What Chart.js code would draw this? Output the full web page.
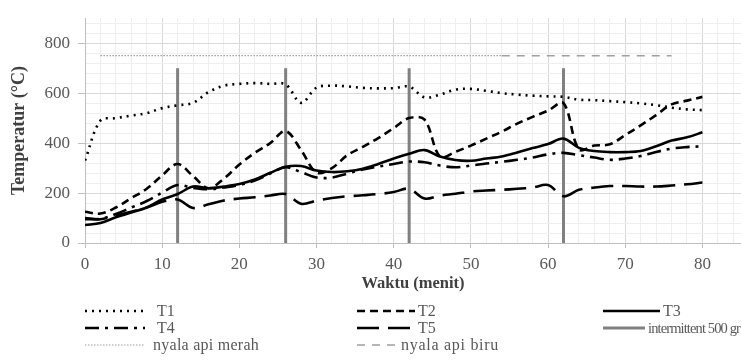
<!DOCTYPE html>
<html>
<head>
<meta charset="utf-8">
<script src="https://cdn.jsdelivr.net/npm/chart.js@4.4.1/dist/chart.umd.min.js"></script>
<style>
  html, body { margin: 0; padding: 0; background: #ffffff; }
  #wrap { position: relative; width: 741px; height: 360px; overflow: hidden; }
  #c { position: absolute; left: 0; top: 0; }
  #legend { position: absolute; left: 0; top: 0; width: 741px; height: 360px; pointer-events: none;
            font-family: 'Liberation Serif', 'Times New Roman', serif; font-size: 16px; color: #595959; }
  .lg-item { position: absolute; white-space: nowrap; }
  .lg-item svg { position: absolute; left: 0; top: 0; overflow: visible; }
  .lg-item span { position: absolute; top: 0; line-height: 16px; transform: translateY(-8px); }
</style>
</head>
<body>
<div id="wrap">
  <canvas id="c" width="741" height="360"></canvas>
  <div id="legend"></div>
</div>
<script>
// ---- data ----
const waktu = [0,2,4,6,8,10,12,14,16,18,20,22,24,26,28,30,32,34,36,38,40,42,44,46,48,50,52,54,56,58,60,62,64,66,68,70,72,74,76,78,80];
const T1 = [330,490,500,510,520,540,551,561,604,630,637,640,637,635,561,622,630,627,621,619,620,626,583,594,614,617,609,600,594,590,587,585,574,572,568,564,559,552,542,535,532];
const T2 = [125,118,142,180,217,271,316,268,219,258,314,361,400,448,372,282,300,352,385,420,460,500,494,345,365,390,418,446,478,505,530,560,375,390,395,432,471,512,555,570,585];
const T3 = [72,80,103,122,142,174,196,226,219,226,236,254,281,305,308,290,284,287,297,316,338,357,372,346,332,329,338,346,362,380,396,418,381,368,364,364,368,387,410,423,443];
const T4 = [95,97,116,142,168,202,232,220,215,222,232,250,278,303,284,262,262,278,294,306,316,326,323,310,303,310,318,325,333,342,355,361,352,342,333,338,348,364,378,384,387];
const T5 = [100,95,110,125,142,165,174,140,155,170,178,183,190,196,157,170,180,187,191,196,204,217,178,190,197,206,210,213,217,222,232,187,213,222,228,228,226,226,230,235,242];
const intermittentWaktu = [12, 26, 42, 62];
const intermittentTop = 700;
const nyalaMerahWaktu = [2, 54];
const nyalaBiruWaktu = [54, 76];
const nyalaSuhu = 750;
const xTickLabels = [0,10,20,30,40,50,60,70,80];
const yTickLabels = [0,200,400,600,800];

// ---- build datasets ----
const toXY = (ys) => waktu.map((t, i) => ({ x: t, y: ys[i] }));
const vertPts = [];
intermittentWaktu.forEach(t => { vertPts.push({x: t, y: 0}, {x: t, y: intermittentTop}, {x: t, y: null}); });

const seriesStyle = { borderColor: '#000000', borderWidth: 2.6, pointRadius: 0, tension: 0.35, fill: false };
const datasets = [
  Object.assign({ label: 'T1', data: toXY(T1), borderDash: [2, 5] }, seriesStyle),
  Object.assign({ label: 'T2', data: toXY(T2), borderDash: [8, 5] }, seriesStyle),
  Object.assign({ label: 'T3', data: toXY(T3), borderDash: [] }, seriesStyle),
  Object.assign({ label: 'T4', data: toXY(T4), borderDash: [14, 6, 3, 6] }, seriesStyle),
  Object.assign({ label: 'T5', data: toXY(T5), borderDash: [22, 9] }, seriesStyle),
  { label: 'intermittent 500 gr', data: vertPts, borderColor: '#808080', borderWidth: 3, pointRadius: 0, tension: 0, spanGaps: false, borderDash: [] },
  { label: 'nyala api merah', data: nyalaMerahWaktu.map(t => ({x: t, y: nyalaSuhu})), borderColor: '#a0a0a0', borderWidth: 1.2, pointRadius: 0, tension: 0, borderDash: [1.5, 1.5] },
  { label: 'nyala api biru', data: nyalaBiruWaktu.map(t => ({x: t, y: nyalaSuhu})), borderColor: '#a0a0a0', borderWidth: 1.5, pointRadius: 0, tension: 0, borderDash: [8, 7] }
];

const FONT = "'Liberation Serif', 'Times New Roman', serif";
const gridCol = (major) => (ctx) => (ctx.tick && ctx.tick.value % major === 0) ? '#d9d9d9' : '#efefef';
const tickCol = (major) => (ctx) => (ctx.tick && ctx.tick.value % major === 0) ? '#bfbfbf' : 'rgba(0,0,0,0)';

const chart = new Chart(document.getElementById('c'), {
  type: 'line',
  data: { datasets },
  options: {
    responsive: false,
    animation: false,
    devicePixelRatio: 1,
    layout: { padding: { left: 0, right: 0, top: 11, bottom: 66 } },
    plugins: { legend: { display: false }, tooltip: { enabled: false } },
    scales: {
      x: {
        type: 'linear', min: 0, max: 85,
        afterBuildTicks: (s) => { const t = []; for (let v = 0; v <= 84; v += 2) t.push({ value: v }); s.ticks = t; },
        afterFit: (s) => { s.height = 51; },
        ticks: { autoSkip: false, maxRotation: 0, padding: 6, color: '#595959', font: { family: FONT, size: 17 },
                 callback: (v) => xTickLabels.includes(v) ? String(v) : '' },
        grid: { color: gridCol(10), tickColor: tickCol(10), tickLength: 5, lineWidth: 1 },
        border: { color: '#bfbfbf', width: 1 },
        title: { display: true, text: 'Waktu (menit)', color: '#404040', font: { family: FONT, size: 16.5, weight: 'bold' }, padding: { top: 0, bottom: 0 } }
      },
      y: {
        type: 'linear', min: 0, max: 900,
        afterBuildTicks: (s) => { const t = []; for (let v = 0; v <= 880; v += 40) t.push({ value: v }); s.ticks = t; },
        afterFit: (s) => { s.width = 85; },
        ticks: { autoSkip: false, padding: 8, color: '#595959', font: { family: FONT, size: 17 },
                 callback: (v) => yTickLabels.includes(v) ? String(v) : '' },
        grid: { color: gridCol(200), tickColor: tickCol(200), tickLength: 7, lineWidth: 1 },
        border: { color: '#bfbfbf', width: 1 },
        title: { display: true, text: 'Temperatur (°C)', color: '#404040', font: { family: FONT, size: 18, weight: 'bold' }, padding: { top: 9, bottom: 0 } }
      }
    }
  }
});

// ---- HTML legend built from the datasets ----
// x/w: sample line position & length, tx: text start, y: row centre, tw: target text width, fs: font size (layout only)
const legendSlots = {
  'T1': { x: 85, w: 62, tx: 157, y: 311 },
  'T2': { x: 357, w: 58, tx: 418, y: 311 },
  'T3': { x: 603, w: 57, tx: 663, y: 311 },
  'T4': { x: 85, w: 60, tx: 157, y: 328 },
  'T5': { x: 357, w: 58, tx: 418, y: 328 },
  'intermittent 500 gr': { x: 603, w: 42, tx: 648, y: 328, tw: 92, fs: 14.5 },
  'nyala api merah': { x: 85, w: 60, tx: 153, y: 345, tw: 106 },
  'nyala api biru': { x: 357, w: 38, tx: 401, y: 345, tw: 98 }
};
const legendEl = document.getElementById('legend');
chart.data.datasets.forEach(ds => {
  const s = legendSlots[ds.label];
  if (!s) return;
  const item = document.createElement('div');
  item.className = 'lg-item';
  item.style.left = s.x + 'px';
  item.style.top = s.y + 'px';
  const dash = (ds.borderDash && ds.borderDash.length) ? ds.borderDash.join(' ') : 'none';
  item.innerHTML = '<svg width="' + s.w + '" height="1"><line x1="0" y1="0" x2="' + s.w + '" y2="0" stroke="' + ds.borderColor +
    '" stroke-width="' + ds.borderWidth + '" stroke-dasharray="' + dash + '"/></svg>';
  const span = document.createElement('span');
  span.textContent = ds.label;
  span.style.left = (s.tx - s.x) + 'px';
  if (s.fs) span.style.fontSize = s.fs + 'px';
  item.appendChild(span);
  legendEl.appendChild(item);
  if (s.tw) {
    const natural = span.getBoundingClientRect().width;
    const n = ds.label.length;
    span.style.letterSpacing = ((s.tw - natural) / n).toFixed(2) + 'px';
  }
});
</script>
</body>
</html>
